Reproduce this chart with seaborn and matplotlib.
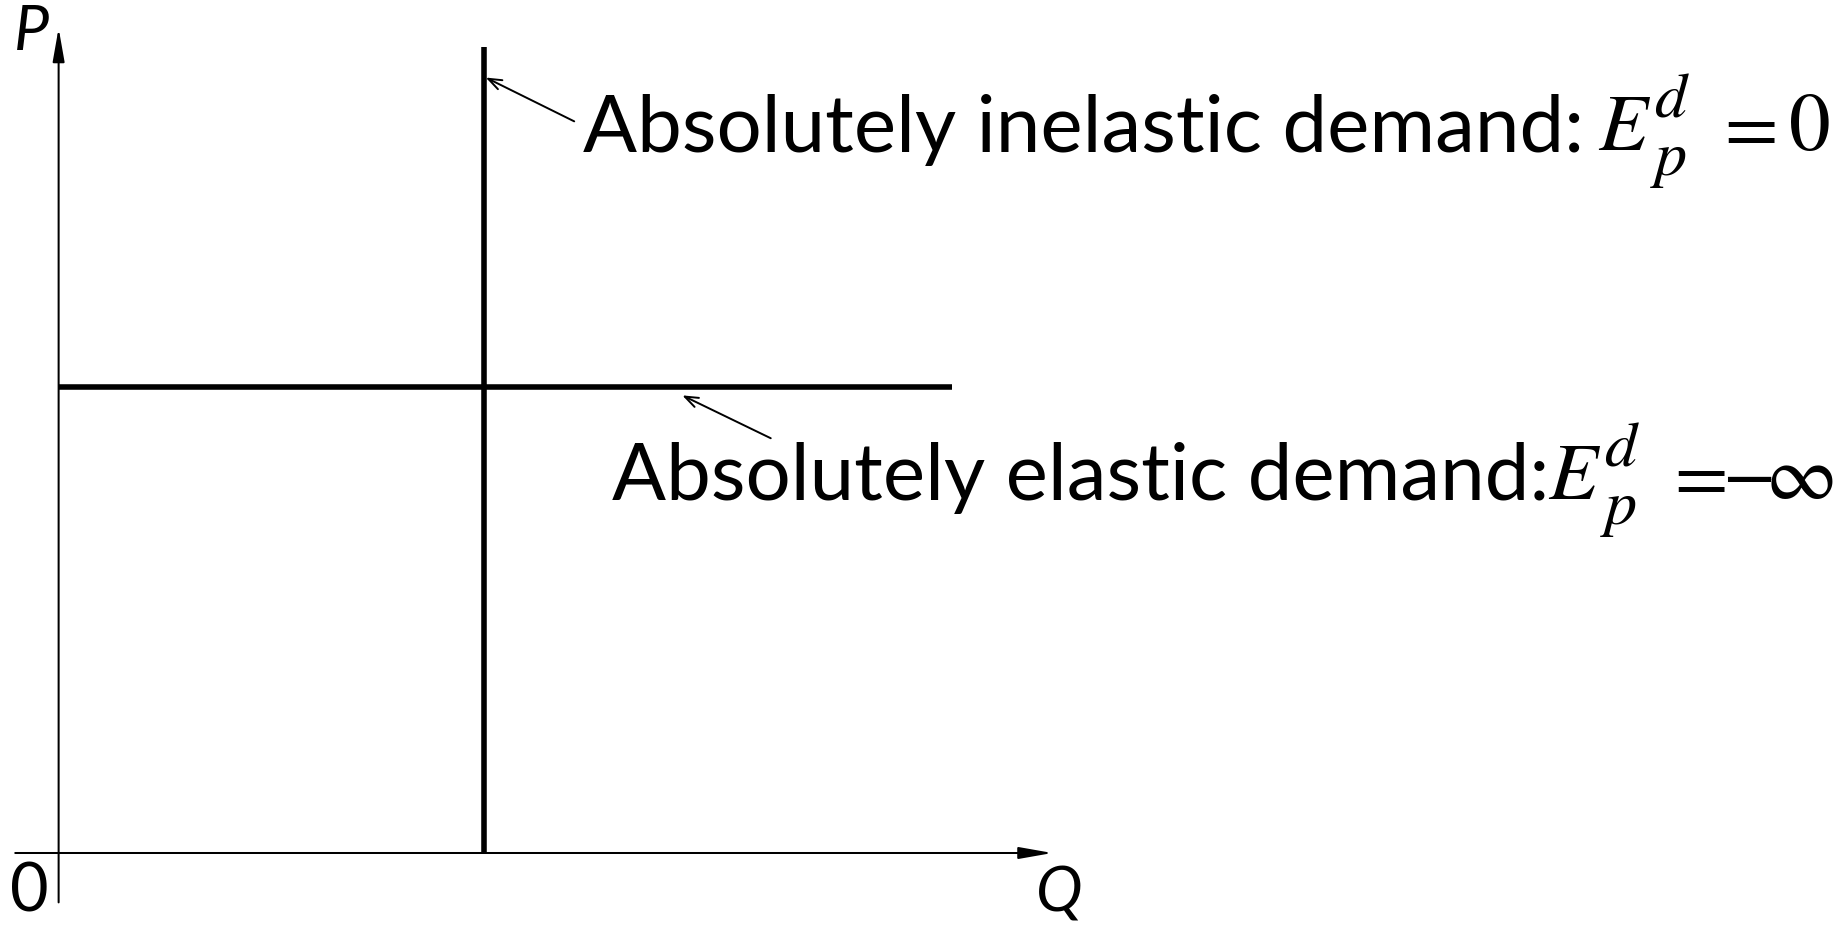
import matplotlib
matplotlib.use("Agg")
import matplotlib.pyplot as plt
import matplotlib.transforms as mtransforms
import seaborn as sns
import pandas as pd

# Demand curves (Q, P)
inelastic_q = [5.0, 5.0]
inelastic_p = [0.0, 8.65]
elastic_q = [0.0, 10.5]
elastic_p = [5.0, 5.0]

# Axis extents
q_axis = [-0.51, 11.68]
p_axis = [-0.53, 8.85]

# Labels
inelastic_label = "Absolutely inelastic demand:"
elastic_label = "Absolutely elastic demand:"
inelastic_value = r"$0$"
elastic_value = r"$-\!\infty$"
axis_labels = ["P", "Q", "0"]

W, H = 1838, 927
sns.set_theme(style="white")
plt.rcParams["font.family"] = ["Lato", "DejaVu Sans"]
plt.rcParams["text.color"] = "black"
plt.rcParams["mathtext.fontset"] = "stix"

fig = plt.figure(figsize=(W / 100, H / 100), dpi=100)
ax = fig.add_axes([0, 0, 1, 1])
ax.set_xlim(-0.689, 20.914)
ax.set_ylim(-0.794, 9.152)
ax.axis("off")

# pixel placement for text (origin top-left)
pix = mtransforms.Affine2D().scale(1, -1).translate(0, H)

inelastic = pd.DataFrame({"Q": inelastic_q, "P": inelastic_p})
elastic = pd.DataFrame({"Q": elastic_q, "P": elastic_p})
for df in (inelastic, elastic):
    sns.lineplot(data=df, x="Q", y="P", color="black", linewidth=4.0,
                 estimator=None, sort=False, ax=ax, solid_capstyle="butt")

# Coordinate axes with arrowheads
arrow_kw = dict(arrowstyle="-|>,head_length=1.7,head_width=0.3", color="black",
                lw=1.45, shrinkA=0, shrinkB=0)
ax.annotate("", xy=(q_axis[1], 0), xytext=(q_axis[0], 0), arrowprops=arrow_kw)
ax.annotate("", xy=(0, p_axis[1]), xytext=(0, p_axis[0]), arrowprops=arrow_kw)

# Axis labels
ax.text(31.5, 33, axis_labels[0], fontsize=45, style="italic",
        ha="center", va="center", transform=pix)
ax.text(1059, 894, axis_labels[1], fontsize=45, style="italic",
        ha="center", va="center", transform=pix)
ax.text(29.5, 892, axis_labels[2], fontsize=48, ha="center", va="center",
        transform=pix)

# Pointers to the curves
pointer_kw = dict(arrowstyle="->,head_length=0.8,head_width=0.3", color="black",
                  lw=1.4, shrinkA=0, shrinkB=0)
ax.annotate("", xy=(5.02, 8.32), xytext=(6.06, 7.85), arrowprops=pointer_kw)
ax.annotate("", xy=(7.33, 4.91), xytext=(8.37, 4.45), arrowprops=pointer_kw)


def elasticity(x_e, base, x_eq, value, x_val, val_ha, val_size):
    """Draw E_p^d = value after a label, with large scripts."""
    ax.text(x_e, base, r"$E$", fontsize=58, ha="left", va="baseline",
            transform=pix)
    ax.text(x_e + 52, base, r"${}^{d}_{p}$", fontsize=66, ha="left",
            va="baseline", transform=pix)
    ax.text(x_eq, base, r"$=$", fontsize=56, ha="center", va="baseline",
            transform=pix)
    ax.text(x_val, base, value, fontsize=val_size, ha=val_ha, va="baseline",
            transform=pix)


ax.text(583, 152, inelastic_label, fontsize=57.5, ha="left", va="baseline",
        transform=pix)
elasticity(1598, 150, 1744, inelastic_value, 1788, "left", 60)

ax.text(612, 500, elastic_label, fontsize=57.5, ha="left", va="baseline",
        transform=pix)
elasticity(1548, 499, 1694, elastic_value, 1834, "right", 56)

fig.savefig("out.png", dpi=100, facecolor="white")
